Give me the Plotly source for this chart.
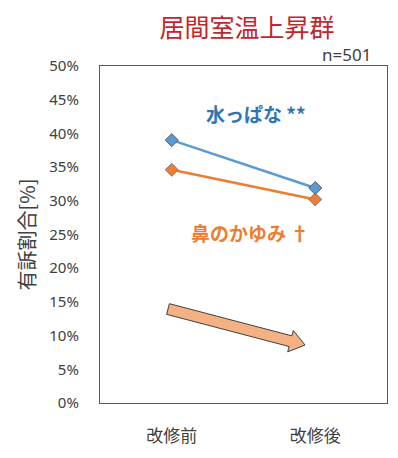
import math
import plotly.graph_objects as go

categories = ["改修前", "改修後"]
runny_nose = [39.0, 31.9]
itchy_nose = [34.6, 30.2]
y_ticks = [0, 5, 10, 15, 20, 25, 30, 35, 40, 45, 50]
y_ticklabels = [f"{v}%" for v in y_ticks]

W, H = 398, 458
ML, MR, MT, MB = 100, 11, 66, 55
PW, PH = W - ML - MR, H - MT - MB

fig = go.Figure()
fig.add_trace(go.Scatter(
    x=categories, y=itchy_nose, mode="lines+markers",
    line=dict(color="#ED7D31", width=2.5),
    marker=dict(symbol="diamond", size=10, color="#ED7D31", line=dict(color="#7f7f7f", width=1)),
    showlegend=False, hoverinfo="skip"))
fig.add_trace(go.Scatter(
    x=categories, y=runny_nose, mode="lines+markers",
    line=dict(color="#5B9BD5", width=2.5),
    marker=dict(symbol="diamond", size=10, color="#5B9BD5", line=dict(color="#5a5a5a", width=1)),
    showlegend=False, hoverinfo="skip"))

# block arrow (decoration), built in pixel space then converted to paper coords
def px_to_paper(px, py):
    return (px - ML) / PW, 1 - (py - MT) / PH

sx, sy, ex, ey = 168, 309, 305, 345
L = math.hypot(ex - sx, ey - sy)
ux, uy = (ex - sx) / L, (ey - sy) / L
nx, ny = -uy, ux
bw, hw, hl = 5.5, 11, 15
bx, by = ex - ux * hl, ey - uy * hl
pts = [
    (sx + nx * bw, sy + ny * bw),
    (bx + nx * bw, by + ny * bw),
    (bx + nx * hw, by + ny * hw),
    (ex, ey),
    (bx - nx * hw, by - ny * hw),
    (bx - nx * bw, by - ny * bw),
    (sx - nx * bw, sy - ny * bw),
]
pp = [px_to_paper(*p) for p in pts]
path = "M " + " L ".join(f"{x:.4f},{y:.4f}" for x, y in pp) + " Z"
fig.add_shape(type="path", path=path, xref="paper", yref="paper",
              fillcolor="#F4B183", line=dict(color="#404040", width=1))

fig.add_annotation(text="<b>水っぱな **</b>", xref="paper", yref="paper",
                   x=px_to_paper(256, 113)[0], y=px_to_paper(256, 113)[1],
                   showarrow=False, font=dict(size=19, color="#2E75B6", family="Noto Sans CJK JP"),
                   xanchor="center", yanchor="middle")
fig.add_annotation(text="<b>鼻のかゆみ †</b>", xref="paper", yref="paper",
                   x=px_to_paper(250, 232)[0], y=px_to_paper(250, 232)[1],
                   showarrow=False, font=dict(size=19, color="#ED7D31", family="Noto Sans CJK JP"),
                   xanchor="center", yanchor="middle")
fig.add_annotation(text="n=501", xref="paper", yref="paper",
                   x=px_to_paper(373, 54)[0], y=px_to_paper(373, 54)[1],
                   showarrow=False, font=dict(size=17, color="#404040", family="Noto Sans"),
                   xanchor="right", yanchor="middle")

fig.update_layout(
    width=W, height=H,
    margin=dict(l=ML, r=MR, t=MT, b=MB),
    paper_bgcolor="white", plot_bgcolor="white",
    font=dict(family="Noto Sans CJK JP", color="#404040"),
    hovermode=False,
    title=dict(text="居間室温上昇群", x=247 / W, xanchor="center", y=1 - 28 / H, yanchor="middle",
               font=dict(size=25, color="#C0272D", family="Noto Sans CJK JP")),
    xaxis=dict(type="category", range=[-0.5, 1.5], showgrid=False, zeroline=False,
               showline=True, linecolor="#595959", linewidth=1.2, mirror=True,
               ticks="", ticklabelstandoff=17, tickfont=dict(size=17, color="#404040")),
    yaxis=dict(range=[0, 50], tickvals=y_ticks, ticktext=y_ticklabels, showgrid=False,
               zeroline=False, showline=True, linecolor="#595959", linewidth=1.2, mirror=True,
               ticks="", ticklabelstandoff=17, tickfont=dict(size=15, color="#404040", family="Noto Sans"),
               title=dict(text="有訴割合[%]", standoff=8, font=dict(size=20, color="#404040"))),
)
fig.write_html("out.html", config={"displayModeBar": False},
               post_script="document.body.style.margin='0';")
